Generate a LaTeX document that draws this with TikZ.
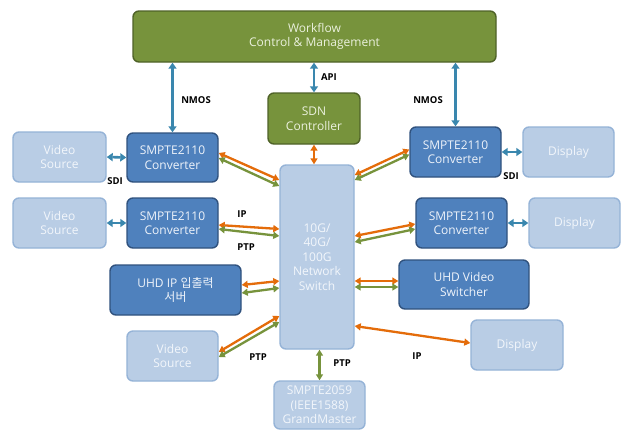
\documentclass[tikz,border=0pt]{standalone}
\usepackage{fontspec}
\setmainfont{Open Sans}
\newfontfamily\kr{Noto Sans CJK KR}
\usetikzlibrary{arrows.meta,calc}
\definecolor{gfill}{HTML}{77933C}
\definecolor{gdraw}{HTML}{4F6228}
\definecolor{gtext}{HTML}{EBF1DE}
\definecolor{dfill}{HTML}{4F81BD}
\definecolor{ddraw}{HTML}{30527E}
\definecolor{dtext}{HTML}{EEF3FA}
\definecolor{lfill}{HTML}{B9CDE5}
\definecolor{ldraw}{HTML}{95B3D7}
\definecolor{ltext}{HTML}{F2F6FB}
\definecolor{ablue}{HTML}{3A87AE}
\definecolor{aorange}{HTML}{E46C0A}
\definecolor{agreen}{HTML}{77933C}
\begin{document}
\begin{tikzpicture}[x=1pt,y=-1pt,
  box/.style={rounded corners=6pt, line width=1.4pt, align=center, inner sep=0pt,
    font=\fontsize{12}{14.5}\selectfont},
  gbox/.style={box, fill=gfill, draw=gdraw, text=gtext},
  dbox/.style={box, fill=dfill, draw=ddraw, text=dtext},
  lbox/.style={box, fill=lfill, draw=ldraw, text=ltext},
  sz/.style 2 args={minimum width=#1pt, minimum height=#2pt},
  lab/.style={font=\bfseries\fontsize{9.5}{10}\selectfont, text=black},
  barr/.style={draw=ablue, line width=2.6pt, {Triangle[length=6pt,width=8pt]}-{Triangle[length=6pt,width=8pt]}},
  oarr/.style={draw=aorange, line width=2.3pt, {Triangle[length=6pt,width=7pt]}-{Triangle[length=6pt,width=7pt]}},
  garr/.style={draw=agreen, line width=2.3pt, {Triangle[length=6pt,width=7pt]}-{Triangle[length=6pt,width=7pt]}}
]
\useasboundingbox (0,0) rectangle (628,432);
\fill[white] (0,0) rectangle (628,432);

% boxes
\node[gbox, sz={363}{51}] (wf) at (314.5,36.5) {Workflow\\Control \& Management};
\node[gbox, sz={92}{51}] (sdn) at (314,118.5) {SDN\\Controller};
\node[lbox, sz={74}{184}] (sw) at (317,257) {10G/\\40G/\\100G\\Network\\Switch};
\node[lbox, sz={91}{48}] (gm) at (319.5,405) {SMPTE2059\\(IEEE1588)\\GrandMaster};

\node[lbox, sz={93}{50}] (vs1) at (59.5,157) {Video\\Source};
\node[dbox, sz={91}{49}] (cv1) at (172.5,157.5) {SMPTE2110\\Converter};
\node[lbox, sz={93}{50}] (vs2) at (59.5,223) {Video\\Source};
\node[dbox, sz={91}{50}] (cv2) at (172.5,223) {SMPTE2110\\Converter};
\node[dbox, sz={131}{50}] (srv) at (175.5,290) {UHD IP {\kr 입출력}\\{\kr 서버}};
\node[lbox, sz={91}{50}] (vs3) at (172.5,356) {Video\\Source};

\node[dbox, sz={91}{50}] (cv3) at (455.5,152) {SMPTE2110\\Converter};
\node[lbox, sz={91}{50}] (dp1) at (568.5,152) {Display};
\node[dbox, sz={91}{50}] (cv4) at (461.5,223) {SMPTE2110\\Converter};
\node[lbox, sz={91}{50}] (dp2) at (574.5,223) {Display};
\node[dbox, sz={130}{49}] (vsw) at (464,284.5) {UHD Video\\Switcher};
\node[lbox, sz={92}{50}] (dp3) at (517,345) {Display};

% blue control arrows
\draw[barr] (cv1.north |- wf.south) -- (cv1.north);
\draw[barr] (cv3.north |- wf.south) -- (cv3.north);
\draw[barr] (sdn.north |- wf.south) -- (sdn.north);
\draw[barr] (vs1.east) -- (cv1.west);
\draw[barr] (vs2.east) -- (cv2.west);
\draw[barr] (cv3.east) -- (dp1.west);
\draw[barr] (cv4.east) -- (dp2.west);

% SDN to switch
\draw[oarr] (sdn.south) -- (sdn.south |- sw.north);

% left side links
\draw[oarr] ([yshift=4.5pt]cv1.east) -- ([yshift=77pt]sw.west);
\draw[garr] ([yshift=-0.5pt]cv1.east) -- ([yshift=71pt]sw.west);
\draw[oarr] ([yshift=-2pt]cv2.east) -- ([yshift=28pt]sw.west);
\draw[garr] ([yshift=-6pt]cv2.east) -- ([yshift=21pt]sw.west);
\draw[oarr] ([yshift=5pt]srv.east) -- ([yshift=-24pt]sw.west);
\draw[garr] ([yshift=-3pt]srv.east) -- ([yshift=-31pt]sw.west);
\draw[oarr] ([yshift=4pt]vs3.east) -- ([yshift=-59pt]sw.west);
\draw[garr] ([yshift=-1pt]vs3.east) -- ([yshift=-65pt]sw.west);

% right side links
\draw[oarr] ([yshift=82pt]sw.east) -- ([yshift=2.5pt]cv3.west);
\draw[garr] ([yshift=77pt]sw.east) -- ([yshift=-2.5pt]cv3.west);
\draw[oarr] ([yshift=21pt]sw.east) -- ([yshift=-1pt]cv4.west);
\draw[garr] ([yshift=15pt]sw.east) -- ([yshift=-6pt]cv4.west);
\draw[oarr] ([yshift=-24pt]sw.east) -- ([yshift=3.5pt]vsw.west);
\draw[garr] ([yshift=-30pt]sw.east) -- ([yshift=-2.5pt]vsw.west);
\draw[oarr] ([yshift=-69pt]sw.east) -- ([yshift=2pt]dp3.west);

% grandmaster
\draw[garr] (gm.north |- sw.south) -- (gm.north);

% labels
\node[lab] (l1) at (196,100) {NMOS};
\node[lab] (l2) at (428,100) {NMOS};
\node[lab] (l3) at (329,77) {API};
\node[lab] (l4) at (115,181) {SDI};
\node[lab] (l5) at (511,176) {SDI};
\node[lab] (l6) at (242,214) {IP};
\node[lab] (l7) at (246,247) {PTP};
\node[lab] (l8) at (258,357) {PTP};
\node[lab] (l9) at (342,363) {PTP};
\node[lab] (l10) at (417,356) {IP};
\end{tikzpicture}
\end{document}
